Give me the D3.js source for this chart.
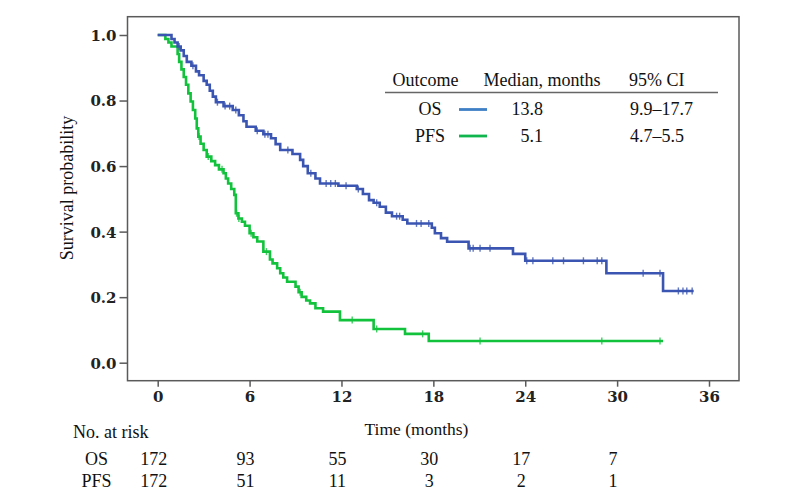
<!DOCTYPE html>
<html><head><meta charset="utf-8">
<script src="https://cdn.jsdelivr.net/npm/d3@7"></script>
<style>
html,body{margin:0;padding:0;background:#fff;}
svg text{font-family:"Liberation Serif","Times New Roman",serif;}
</style></head>
<body><svg id="c" width="806" height="500"></svg>
<script>
// ---- data ----
const xTicks = [0, 6, 12, 18, 24, 30, 36];
const yTicks = [0.0, 0.2, 0.4, 0.6, 0.8, 1.0];
// step points: [time (months), survival after the event]
const osSteps = [[0,1],[0.9,0.988],[1.1,0.977],[1.3,0.965],[1.5,0.953],[1.7,0.936],[1.9,0.918],[2.2,0.906],[2.5,0.889],[2.7,0.877],[3.0,0.860],[3.2,0.848],[3.4,0.830],[3.6,0.812],[3.8,0.795],[4.3,0.783],[4.9,0.771],[5.3,0.755],[5.6,0.737],[5.8,0.720],[6.4,0.708],[6.9,0.697],[7.4,0.685],[7.7,0.667],[8.0,0.649],[8.8,0.637],[9.3,0.619],[9.5,0.600],[9.8,0.578],[10.3,0.562],[10.6,0.547],[11.8,0.540],[13.0,0.530],[13.4,0.515],[13.8,0.496],[14.1,0.488],[14.5,0.476],[14.9,0.458],[15.3,0.447],[16.0,0.436],[16.3,0.425],[17.9,0.412],[18.1,0.395],[18.5,0.380],[18.9,0.369],[20.3,0.349],[23.2,0.332],[24.0,0.311],[29.3,0.273],[33.0,0.219],[35.0,0.219]];
const osCensor = [1.4,2.3,3.9,4.4,4.7,5.1,6.5,7.0,7.2,8.5,10.0,11.0,11.3,11.6,12.3,13.1,14.3,15.6,15.8,16.9,17.2,17.7,20.4,20.6,21.05,21.7,24.1,24.5,25.8,26.5,27.8,28.7,29.0,31.7,32.8,34.0,34.3,34.55,34.9];
const pfsSteps = [[0,1],[0.5,0.988],[0.7,0.977],[0.9,0.965],[1.3,0.942],[1.4,0.918],[1.55,0.895],[1.7,0.872],[1.85,0.848],[2.0,0.822],[2.15,0.797],[2.3,0.771],[2.45,0.745],[2.55,0.715],[2.65,0.690],[2.8,0.668],[3.0,0.649],[3.2,0.629],[3.5,0.615],[3.75,0.603],[4.0,0.590],[4.3,0.578],[4.45,0.562],[4.6,0.547],[4.8,0.530],[5.0,0.512],[5.1,0.456],[5.27,0.440],[5.5,0.430],[5.7,0.418],[6.0,0.395],[6.25,0.383],[6.5,0.370],[6.9,0.339],[7.33,0.315],[7.5,0.303],[7.8,0.288],[8.0,0.273],[8.2,0.260],[8.45,0.247],[9.0,0.232],[9.2,0.215],[9.4,0.201],[9.7,0.190],[9.95,0.181],[10.3,0.166],[10.8,0.156],[11.9,0.130],[14.1,0.103],[16.15,0.088],[17.7,0.066],[33.0,0.066]];
const pfsCensor = [2.7,3.3,4.2,5.15,5.3,6.1,7.1,9.3,12.7,14.3,17.3,21.05,29.0,32.8];
const legendRows = [
  {name:"OS", median:"13.8", ci:"9.9–17.7"},
  {name:"PFS", median:"5.1", ci:"4.7–5.5"}
];
const riskTimes = [0, 6, 12, 18, 24, 30];
const riskOS = [172, 93, 55, 30, 17, 7];
const riskPFS = [172, 51, 11, 3, 2, 1];

// ---- styling ----
const curveCol = {OS:"#3a55b2", PFS:"#12c23c"};
const legendCol = {OS:"#3f7fc6", PFS:"#10b54e"};

const svg = d3.select("#c");
const x = d3.scaleLinear().domain([0,36]).range([157.7,709]);
const y = d3.scaleLinear().domain([0,1]).range([362.7,35]);
const frame = {l:127.5, t:16.7, r:739, b:380.7};

// frame
svg.append("rect").attr("x",frame.l).attr("y",frame.t)
  .attr("width",frame.r-frame.l).attr("height",frame.b-frame.t)
  .attr("fill","none").attr("stroke","#5a5a5a").attr("stroke-width",1.5);

// y axis
const yAx = svg.append("g").attr("transform",`translate(${frame.l},0)`)
  .call(d3.axisLeft(y).tickValues(yTicks).tickFormat(d3.format(".1f")).tickSize(8).tickPadding(3));
yAx.select(".domain").remove();
yAx.selectAll("line").attr("stroke","#5a5a5a").attr("stroke-width",1.5);
yAx.selectAll("text").style("font-family","DejaVu Serif").style("font-size","15px").style("font-weight","bold").attr("fill","#222").attr("dy","0.36em");

// x axis
const xAx = svg.append("g").attr("transform",`translate(0,${frame.b})`)
  .call(d3.axisBottom(x).tickValues(xTicks).tickFormat(d3.format("d")).tickSize(6).tickPadding(5));
xAx.select(".domain").remove();
xAx.selectAll("line").attr("stroke","#5a5a5a").attr("stroke-width",1.5);
xAx.selectAll("text").style("font-family","DejaVu Serif").style("font-size","15px").style("font-weight","bold").attr("fill","#222");

// axis titles
svg.append("text").attr("transform",`translate(73,188) rotate(-90)`)
  .attr("text-anchor","middle").style("font-size","18px").attr("fill","#111").text("Survival probability");
svg.append("text").attr("x",416.5).attr("y",435).attr("text-anchor","middle")
  .style("font-size","17.5px").attr("fill","#111").text("Time (months)");

// curves
const line = d3.line().x(d=>x(d[0])).y(d=>y(d[1])).curve(d3.curveStepAfter);
function valueAt(steps,t){let v=1;for(const s of steps){if(s[0]<=t)v=s[1];else break;}return v;}
function drawCurve(steps,censor,col){
  svg.append("path").datum(steps).attr("d",line).attr("fill","none")
    .attr("stroke",col).attr("stroke-width",2.6).attr("stroke-linejoin","miter");
  svg.append("g").selectAll("line").data(censor).join("line")
    .attr("x1",d=>x(d)).attr("x2",d=>x(d))
    .attr("y1",d=>y(valueAt(steps,d))-3.5).attr("y2",d=>y(valueAt(steps,d))+3.5)
    .attr("stroke",col).attr("stroke-width",1.4).attr("opacity",0.8);
}
drawCurve(pfsSteps,pfsCensor,curveCol.PFS);
drawCurve(osSteps,osCensor,curveCol.OS);

// legend table
const lg = svg.append("g");
lg.append("text").attr("x",425.5).attr("y",86).attr("text-anchor","middle").style("font-size","18px").text("Outcome");
lg.append("text").attr("x",542).attr("y",86).attr("text-anchor","middle").style("font-size","18px").text("Median, months");
lg.append("text").attr("x",629).attr("y",86).attr("text-anchor","start").style("font-size","18px").text("95% CI");
lg.append("line").attr("x1",385).attr("x2",718).attr("y1",92.5).attr("y2",92.5).attr("stroke","#666").attr("stroke-width",1.6);
legendRows.forEach((r,i)=>{
  const by = 115 + i*26.5;
  lg.append("text").attr("x",430).attr("y",by).attr("text-anchor","middle").style("font-size","18px").text(r.name);
  lg.append("line").attr("x1",459).attr("x2",487).attr("y1",by-5.5).attr("y2",by-5.5)
    .attr("stroke",legendCol[r.name]).attr("stroke-width",2.8);
  lg.append("text").attr("x",543).attr("y",by).attr("text-anchor","end").style("font-size","18px").text(r.median);
  lg.append("text").attr("x",630).attr("y",by).attr("text-anchor","start").style("font-size","18px").text(r.ci);
});

// number at risk
svg.append("text").attr("x",73).attr("y",438).style("font-size","18px").text("No. at risk");
[["OS",riskOS,465],["PFS",riskPFS,487]].forEach(([name,vals,by])=>{
  svg.append("text").attr("x",96.5).attr("y",by).attr("text-anchor","middle").style("font-size","18px").text(name);
  svg.append("g").selectAll("text").data(vals).join("text")
    .attr("x",(d,i)=>x(riskTimes[i])-4).attr("y",by).attr("text-anchor","middle")
    .style("font-size","18px").text(d=>d);
});
svg.selectAll("text").filter(function(){return !this.getAttribute("fill");}).attr("fill","#111");
</script></body></html>
